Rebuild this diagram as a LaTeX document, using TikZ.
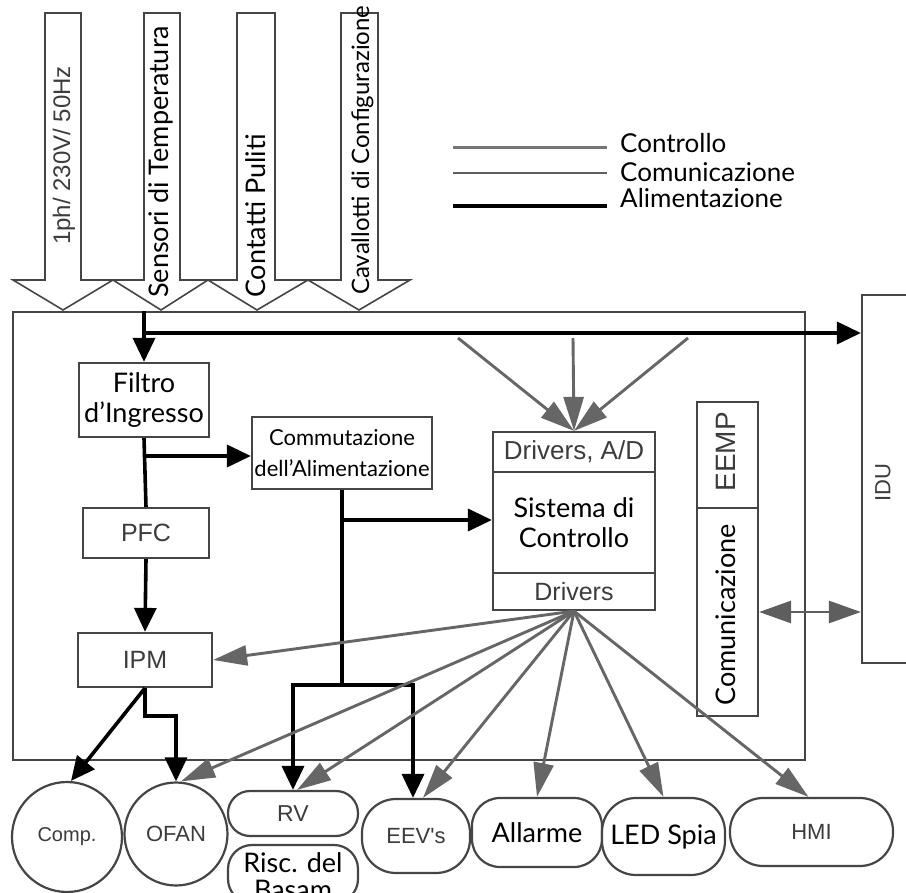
\documentclass[tikz,border=0pt]{standalone}
\usepackage{fontspec}
\setmainfont{Lato}
\newfontfamily\arialf{Liberation Sans}
\usetikzlibrary{arrows.meta}
\definecolor{gtxt}{HTML}{3C3C3C}
\definecolor{bline}{HTML}{454545}
\definecolor{ctlc}{HTML}{666666}
\definecolor{comc}{HTML}{5E5E5E}
\begin{document}
\begin{tikzpicture}[x=1pt,y=-1pt,
  box/.style={draw=bline, line width=2.2pt, fill=white, inner sep=0pt},
  gt/.style={font=\arialf\fontsize{25}{28}\selectfont, text=gtxt},
  bt/.style={font=\fontsize{27}{30}\selectfont, text=black},
  inarr/.style={draw=bline, line width=1.6pt, fill=white, line join=miter},
  pw/.style={line width=3.6pt, draw=black, -{Triangle[length=24pt,width=22pt]}},
  pwl/.style={line width=3.6pt, draw=black},
  ctl/.style={line width=2.9pt, draw=ctlc, -{Triangle[length=34pt,width=20pt]}},
  comarr/.style={line width=2.9pt, draw=comc, {Triangle[length=32pt,width=22pt]}-{Triangle[length=32pt,width=22pt]}},
  pill/.style={box, rounded corners=#1}
]
\useasboundingbox (0,0) rectangle (906,893);

% input arrows
\draw[inarr] (45,13) -- (81,13) -- (81,280) -- (113,280) -- (63,310) -- (13,280) -- (45,280) -- cycle;
\draw[inarr] (144,13) -- (180,13) -- (180,280) -- (208,280) -- (161,310) -- (113,280) -- (144,280) -- cycle;
\draw[inarr] (237,13) -- (275,13) -- (275,280) -- (308,280) -- (257,310) -- (208,280) -- (237,280) -- cycle;
\draw[inarr] (341,13) -- (378,13) -- (378,280) -- (410,280) -- (359,310) -- (308,280) -- (341,280) -- cycle;
\node[gt, font=\arialf\fontsize{24}{26}\selectfont, rotate=90, anchor=base west, inner sep=0] (t1) at (70,245) {1ph/ 230V/ 50Hz};
\node[bt, rotate=90, anchor=base west, inner sep=0] (t2) at (168,298) {Sensori di Temperatura};
\node[bt, rotate=90, anchor=base west, inner sep=0] (t3) at (265,298) {Contatti Puliti};
\node[bt, font=\fontsize{24}{26}\selectfont, rotate=90, anchor=base west, inner sep=0] (t4) at (369,295) {Cavallotti di Configurazione};

% legend
\coordinate (l1a) at (453,148); \coordinate (l1b) at (607,148);
\coordinate (l2a) at (453,173); \coordinate (l2b) at (607,173);
\coordinate (l3a) at (453,206); \coordinate (l3b) at (607,206);
\draw[line width=3pt, draw=ctlc!90] (l1a) -- (l1b);
\draw[line width=2.6pt, draw=comc] (l2a) -- (l2b);
\draw[line width=4pt, draw=black] (l3a) -- (l3b);
\node[bt, font=\fontsize{26}{28}\selectfont, anchor=base west, inner sep=0] (lg1) at (620,153) {Controllo};
\node[bt, font=\fontsize{26}{28}\selectfont, anchor=base west, inner sep=0] (lg2) at (620,182) {Comunicazione};
\node[bt, font=\fontsize{26}{28}\selectfont, anchor=base west, inner sep=0] (lg3) at (620,208) {Alimentazione};

% main box and IDU
\node[draw=bline, line width=2.2pt, minimum width=792pt, minimum height=448pt, inner sep=0] (main) at (409,536) {};
\node[box, minimum width=68pt, minimum height=368pt] (idu) at (896,479) {};
\node[gt, font=\arialf\fontsize{22}{24}\selectfont, rotate=90] (idut) at (883,483) {IDU};

% blocks
\node[box, minimum width=130pt, minimum height=74pt, bt, align=center] (filtro) at (144,400) {Filtro\\d’Ingresso};
\node[box, minimum width=180pt, minimum height=72pt, bt, font=\fontsize{22}{31}\selectfont, align=center] (comm) at (342,453) {Commutazione\\dell’Alimentazione};
\node[box, minimum width=126pt, minimum height=50pt, gt] (pfc) at (146,533) {PFC};
\node[box, minimum width=134pt, minimum height=54pt, gt] (ipm) at (145,660) {IPM};
\node[box, minimum width=162pt, minimum height=40pt, gt, font=\arialf\fontsize{26}{28}\selectfont] (drvad) at (574,452) {Drivers, A/D};
\node[box, minimum width=162pt, minimum height=101pt, bt, align=center] (sisc) at (574,522.5) {Sistema di\\Controllo};
\node[box, minimum width=162pt, minimum height=37pt, gt] (drv) at (574,591.5) {Drivers};
\node[box, minimum width=61pt, minimum height=106pt] (eemp) at (727.5,455) {};
\node[gt, font=\arialf\fontsize{28}{30}\selectfont, rotate=90] (eempt) at (726,452) {EEMP};
\node[box, minimum width=61pt, minimum height=208pt] (com) at (727.5,612) {};
\node[bt, rotate=90] (comt) at (726,615) {Comunicazione};

% bottom nodes
\node[box, circle, minimum size=110pt, gt, font=\arialf\fontsize{20}{22}\selectfont] (comp) at (67,837) {Comp.};
\node[box, circle, minimum size=103pt, gt, font=\arialf\fontsize{22}{24}\selectfont] (ofan) at (176,834) {OFAN};
\node[pill=22pt, minimum width=130pt, minimum height=45pt, gt, font=\arialf\fontsize{23}{25}\selectfont] (rv) at (293,813.5) {RV};
\node[pill=24pt, minimum width=130pt, minimum height=58pt] (risc) at (293,874) {};
\node[bt, anchor=base, inner sep=0] (risct1) at (293,872) {Risc. del};
\node[bt, anchor=base, inner sep=0] (risct2) at (293,899) {Basam};
\node[pill=34pt, minimum width=108pt, minimum height=74pt, gt, font=\arialf\fontsize{22}{24}\selectfont] (eev) at (416,836) {EEV's};
\node[pill=28pt, minimum width=130pt, minimum height=69pt, bt] (allarme) at (537,832.5) {Allarme};
\node[pill=34pt, minimum width=123pt, minimum height=77pt, bt] (led) at (663.5,836.5) {LED Spia};
\node[pill=33pt, minimum width=163pt, minimum height=68pt, gt, font=\arialf\fontsize{22}{24}\selectfont] (hmi) at (811.5,832) {HMI};

% power connections
\coordinate (jtop) at (144,333);
\coordinate (jf) at (144,456);
\coordinate (jc) at (342,520);
\coordinate (jb) at (342,685);
\draw[pw] (filtro.north |- main.north) -- (filtro.north);
\draw[pw] (jtop) -- (jtop -| idu.west);
\draw[pwl] (filtro.south) -- (pfc.north);
\draw[pw] (jf) -- (jf -| comm.west);
\draw[pw] (pfc.south) -- (ipm.north);
\draw[pwl] (comm.south) -- (jb);
\draw[pw] (jc) -- (jc -| sisc.west);
\draw[pw] (jb) -| (rv.north);
\draw[pw] (jb) -| ([xshift=-3pt]eev.north);
\draw[pw] (ipm.south) -- ([xshift=4pt]comp.north);
\draw[pw] (ipm.south) -- ++(0,28) -| (ofan.north);

% control lines
\coordinate (c1) at (458,338);
\coordinate (c2) at (573,338);
\coordinate (c3) at (688,338);
\draw[ctl] (c1) -- (drvad.north);
\draw[ctl] (c2) -- (drvad.north);
\draw[ctl] (c3) -- (drvad.north);
\draw[ctl] (drv.south) -- (ipm.east);
\draw[ctl] (drv.south) -- ([xshift=5pt]ofan.north);
\draw[ctl] (drv.south) -- ([xshift=4pt]rv.north);
\draw[ctl] (drv.south) -- ([xshift=7pt]eev.north);
\draw[ctl] (drv.south) -- (allarme.north);
\draw[ctl] (drv.south) -- (led.north);
\draw[ctl] (drv.south) -- ([xshift=-3pt]hmi.north);

% communication
\draw[comarr] (com.east) -- (com.east -| idu.west);
\end{tikzpicture}
\end{document}
